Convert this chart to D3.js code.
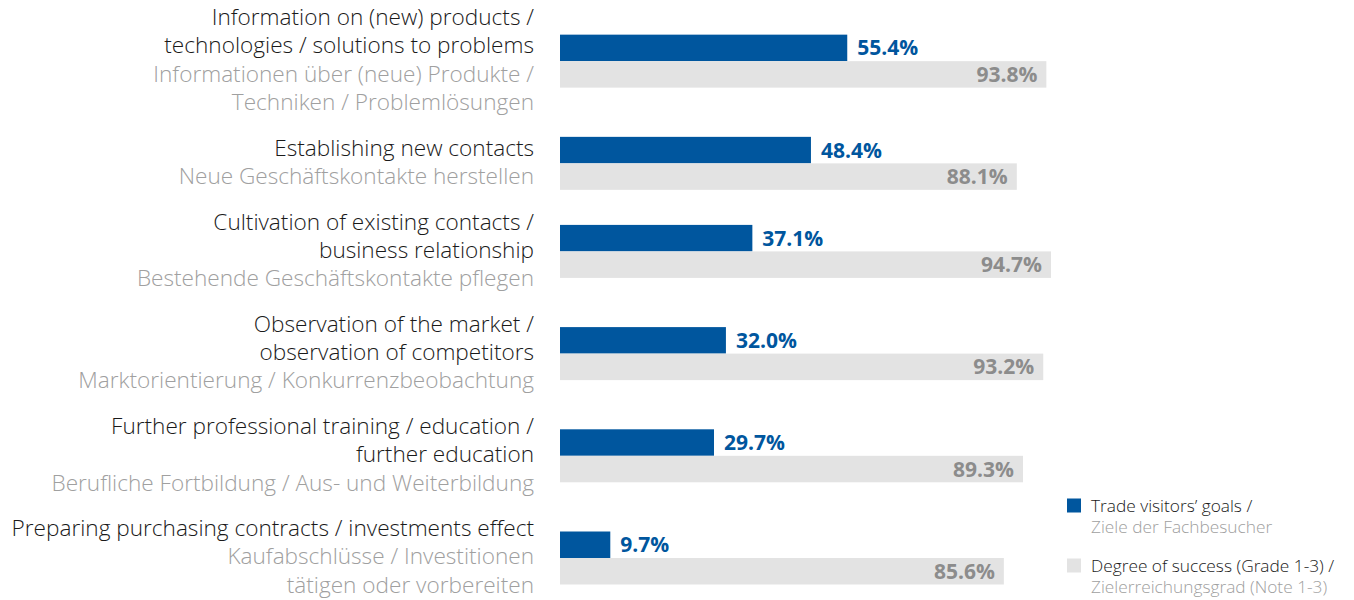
<!DOCTYPE html>
<html>
<head>
<meta charset="utf-8">
<script src="https://cdn.jsdelivr.net/npm/d3@7"></script>
<style>
  html, body { margin: 0; padding: 0; background: #fff; }
  svg { display: block; font-family: "Open Sans", "Noto Sans", sans-serif; }
</style>
</head>
<body>
<svg id="chart" width="1354" height="600"></svg>
<script>
const categoriesEn = [
  ["Information on (new) products /", "technologies / solutions to problems"],
  ["Establishing new contacts"],
  ["Cultivation of existing contacts /", "business relationship"],
  ["Observation of the market /", "observation of competitors"],
  ["Further professional training / education /", "further education"],
  ["Preparing purchasing contracts / investments effect"]
];
const categoriesDe = [
  ["Informationen über (neue) Produkte /", "Techniken / Problemlösungen"],
  ["Neue Geschäftskontakte herstellen"],
  ["Bestehende Geschäftskontakte pflegen"],
  ["Marktorientierung / Konkurrenzbeobachtung"],
  ["Berufliche Fortbildung / Aus- und Weiterbildung"],
  ["Kaufabschlüsse / Investitionen", "tätigen oder vorbereiten"]
];
const goals = [55.4, 48.4, 37.1, 32.0, 29.7, 9.7];
const success = [93.8, 88.1, 94.7, 93.2, 89.3, 85.6];
const legendEn = ["Trade visitors\u2019 goals /", "Degree of success (Grade 1-3) /"];
const legendDe = ["Ziele der Fachbesucher", "Zielerreichungsgrad (Note 1-3)"];

const BLUE = "#00569e", GREYBAR = "#e3e3e3", GREYTXT = "#8c8c8c", LABELGREY = "#a0a0a0", BLACK = "#1a1a1a";

const svg = d3.select("#chart");
const idx = d3.range(goals.length);

// vertical layout derived from the number of label lines per category
const lh = 28.3, groupGap = 17.3, firstLine = 17.2;
const nLines = idx.map(i => categoriesEn[i].length + categoriesDe[i].length);
const cumLines = idx.map(i => d3.sum(nLines.slice(0, i)));
const lineY = (i, j) => firstLine + (cumLines[i] + j) * lh + i * groupGap;
const cy = i => lineY(i, (nLines[i] - 1) / 2) + 1.5;

const x = d3.scaleLinear().domain([0, 100]).range([560, 1078.5]);
const barH = 26.5;

// blue bars
svg.selectAll("rect.goal").data(goals).join("rect").attr("class", "goal")
  .attr("x", x(0)).attr("y", (d, i) => cy(i) - barH)
  .attr("width", d => x(d) - x(0)).attr("height", barH)
  .attr("fill", BLUE);
// grey bars
svg.selectAll("rect.succ").data(success).join("rect").attr("class", "succ")
  .attr("x", x(0)).attr("y", (d, i) => cy(i))
  .attr("width", d => x(d) - x(0)).attr("height", barH)
  .attr("fill", GREYBAR);

const fmt = d => d.toFixed(1) + "%";
svg.selectAll("text.gv").data(goals).join("text").attr("class", "gv")
  .attr("x", d => x(d) + 10).attr("y", (d, i) => cy(i) - barH / 2)
  .attr("dy", "0.36em").attr("fill", BLUE)
  .attr("font-size", 21).attr("font-weight", "bold")
  .text(fmt);
svg.selectAll("text.sv").data(success).join("text").attr("class", "sv")
  .attr("x", d => x(d) - 9).attr("y", (d, i) => cy(i) + barH / 2)
  .attr("dy", "0.36em").attr("fill", GREYTXT).attr("text-anchor", "end")
  .attr("font-size", 21).attr("font-weight", "bold")
  .text(fmt);

// category labels
idx.forEach(i => {
  const lines = categoriesEn[i].map(t => ({t, c: BLACK}))
    .concat(categoriesDe[i].map(t => ({t, c: LABELGREY})));
  svg.append("g").selectAll("text").data(lines).join("text")
    .attr("x", 534).attr("y", (d, j) => lineY(i, j))
    .attr("dy", "0.35em").attr("text-anchor", "end")
    .attr("font-size", 22.6).attr("font-weight", 300).attr("fill", d => d.c)
    .text(d => d.t);
});

// legend
const legColors = [BLUE, GREYBAR];
const ly = d3.scalePoint().domain([0, 1]).range([505.5, 565.5]);
const lg = svg.append("g");
[0, 1].forEach(k => {
  lg.append("rect").attr("x", 1067).attr("y", ly(k) - 7).attr("width", 14).attr("height", 14)
    .attr("fill", legColors[k]);
  lg.append("text").attr("x", 1091).attr("y", ly(k)).attr("dy", "0.35em")
    .attr("font-size", 17.3).attr("font-weight", 300).attr("fill", BLACK).text(legendEn[k]);
  lg.append("text").attr("x", 1091).attr("y", ly(k) + 21).attr("dy", "0.35em")
    .attr("font-size", 17.3).attr("font-weight", 300).attr("fill", LABELGREY).text(legendDe[k]);
});
</script>
</body>
</html>
